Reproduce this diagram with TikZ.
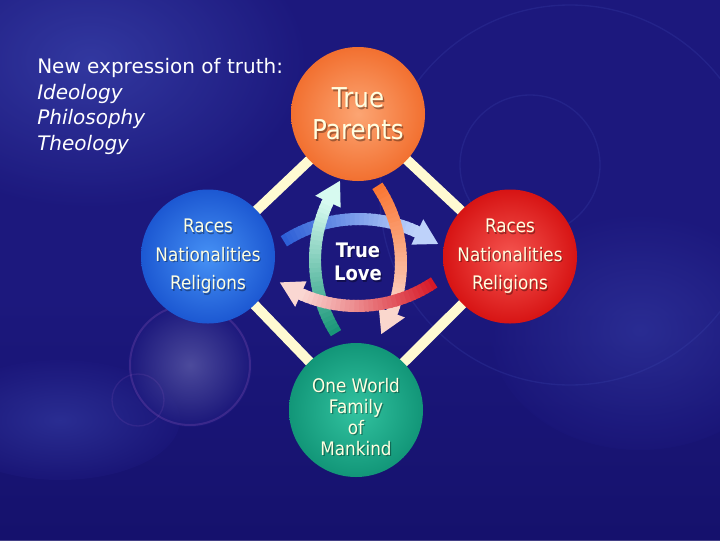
\documentclass[tikz,border=0pt]{standalone}
\usepackage{fontspec}
\setmainfont{DejaVu Sans}[FakeStretch=0.9]
\newfontfamily\widefont{DejaVu Sans}
\usetikzlibrary{calc}
\definecolor{bgmain}{RGB}{28,24,125}
\definecolor{bgdark}{RGB}{20,16,105}
\definecolor{bglight}{RGB}{60,70,175}
\definecolor{cream}{RGB}{255,250,210}
\definecolor{txtcream}{RGB}{255,255,225}
\definecolor{orA}{RGB}{242,112,48}
\definecolor{orB}{RGB}{252,165,115}
\definecolor{blA}{RGB}{28,88,210}
\definecolor{blB}{RGB}{70,145,245}
\definecolor{rdA}{RGB}{215,20,20}
\definecolor{rdB}{RGB}{245,85,80}
\definecolor{gnA}{RGB}{18,150,120}
\definecolor{gnB}{RGB}{50,195,160}
\definecolor{abT}{RGB}{45,95,215}
\definecolor{abH}{RGB}{190,210,250}
\definecolor{aoT}{RGB}{250,118,50}
\definecolor{aoH}{RGB}{250,215,205}
\definecolor{apT}{RGB}{215,25,40}
\definecolor{apH}{RGB}{250,215,210}
\definecolor{agT}{RGB}{25,150,120}
\definecolor{agH}{RGB}{215,250,240}
\definecolor{flare}{RGB}{150,90,190}
\newcommand\ringarrow[5]{%
  \foreach \i in {0,...,29}{%
    \pgfmathsetmacro\aa{#2+(#3-9.5-#2)*\i/30}%
    \pgfmathsetmacro\ab{#2+(#3-9.5-#2)*(\i+1.4)/30}%
    \pgfmathtruncatemacro\pc{100-100*\i/29}%
    \draw[line width=9pt, draw=#4!\pc!#5] ($(#1)+(\aa:138)$) -- ($(#1)+(\ab:138)$);%
  }%
  \fill[#5] ($(#1)+(#3-10:124)$) -- ($(#1)+(#3:138)$) -- ($(#1)+(#3-10:152)$) -- cycle;%
}
\tikzset{
  bubble/.style={circle, minimum size=134*0.75pt, inner sep=0pt, align=center, text=txtcream},
  shadowtext/.style={text=black, opacity=0.35},
  link/.style={draw=cream, line width=7.5pt},
  lefttext/.style={anchor=base west, text=white, inner sep=0pt, font=\widefont\fontsize{15}{18}\selectfont}
}
\begin{document}
\begin{tikzpicture}[x=0.75pt,y=-0.75pt]
\useasboundingbox (0,0) rectangle (720,540);
% background
\fill[bgmain] (0,0) rectangle (720,540);
\shade[top color=bgmain, bottom color=bgdark, opacity=0.8] (0,300) rectangle (720,540);
\begin{scope}
\clip (0,0) rectangle (720,540);
\shade[inner color=bglight, outer color=bgmain, opacity=0.7] (90,60) ellipse [x radius=220, y radius=150];
\shade[inner color=bglight, outer color=bgmain, opacity=0.45] (640,330) ellipse [x radius=150, y radius=120];
\shade[inner color=bglight, outer color=bgmain, opacity=0.5] (60,420) ellipse [x radius=120, y radius=60];
\shade[inner color={rgb,255:red,110;green,110;blue,180}, outer color=bgmain, opacity=0.6] (190,365) circle [radius=62];
\draw[flare, opacity=0.25, line width=1.5pt] (190,365) circle [radius=60];
\draw[flare, opacity=0.15, line width=1pt] (138,400) circle [radius=26];
\draw[bglight, opacity=0.25, line width=1pt] (570,195) circle [radius=190];
\draw[bglight, opacity=0.25, line width=1pt] (530,165) circle [radius=70];
\end{scope}
% text top-left
\node[lefttext] (t1) at (37,73) {New expression of truth:};
\node[lefttext, font=\widefont\itshape\fontsize{15}{18}\selectfont] (t2) at (37,99) {Ideology};
\node[lefttext, font=\widefont\itshape\fontsize{15}{18}\selectfont] (t3) at (37,124.5) {Philosophy};
\node[lefttext, font=\widefont\itshape\fontsize{15}{18}\selectfont] (t4) at (37,150) {Theology};
% centres
\coordinate (ctop) at (358,114);
\coordinate (cleft) at (208,256.5);
\coordinate (cright) at (510,256.5);
\coordinate (cbot) at (356,410);
% links
\draw[link] (ctop) -- (cleft);
\draw[link] (ctop) -- (cright);
\draw[link] (cleft) -- (cbot);
\draw[link] (cright) -- (cbot);
% circles
\node[bubble, inner color=orB, outer color=orA] (tp) at (ctop) {};
\node[bubble, inner color=blB, outer color=blA] (rl) at (cleft) {};
\node[bubble, inner color=rdB, outer color=rdA] (rr) at (cright) {};
\node[bubble, inner color=gnB, outer color=gnA] (ow) at (cbot) {};
% circle texts with soft shadow
\node[align=center, shadowtext, font=\fontsize{20.5}{24}\selectfont, inner sep=0pt] (tps) at ($(ctop)+(1.5,1.5)$) {True\\Parents};
\node[align=center, text=txtcream, font=\fontsize{20.5}{24}\selectfont, inner sep=0pt] (tpt) at (ctop) {True\\Parents};
\node[align=center, shadowtext, font=\fontsize{14}{21.4}\selectfont, inner sep=0pt] (rls) at ($(cleft)+(1.2,1.2)$) {Races\\Nationalities\\Religions};
\node[align=center, text=txtcream, font=\fontsize{14}{21.4}\selectfont, inner sep=0pt] (rlt) at (cleft) {Races\\Nationalities\\Religions};
\node[align=center, shadowtext, font=\fontsize{14}{21.4}\selectfont, inner sep=0pt] (rrs) at ($(cright)+(1.2,1.2)$) {Races\\Nationalities\\Religions};
\node[align=center, text=txtcream, font=\fontsize{14}{21.4}\selectfont, inner sep=0pt] (rrt) at (cright) {Races\\Nationalities\\Religions};
\node[align=center, shadowtext, font=\fontsize{14}{15.8}\selectfont, inner sep=0pt] (ows) at (357.2,418.2) {One World\\Family\\of\\Mankind};
\node[align=center, text=txtcream, font=\fontsize{14}{15.8}\selectfont, inner sep=0pt] (owt) at (356,417) {One World\\Family\\of\\Mankind};
% ring arrows
\coordinate (ab) at (359,357);
\coordinate (ao) at (263,263);
\coordinate (ap) at (357,168);
\coordinate (ag) at (453,260);
\ringarrow{ab}{-123}{-55}{abT}{abH}
\ringarrow{ag}{148}{215}{agT}{agH}
\ringarrow{ao}{-34}{31}{aoT}{aoH}
\ringarrow{ap}{56}{124}{apT}{apH}
% centre text
\node[align=center, shadowtext, font=\bfseries\fontsize{15}{17.5}\selectfont, inner sep=0pt] (tls) at (359.2,263.2) {True\\Love};
\node[align=center, text=white, font=\bfseries\fontsize{15}{17.5}\selectfont, inner sep=0pt] (tl) at (358,262) {True\\Love};
\end{tikzpicture}
\end{document}
